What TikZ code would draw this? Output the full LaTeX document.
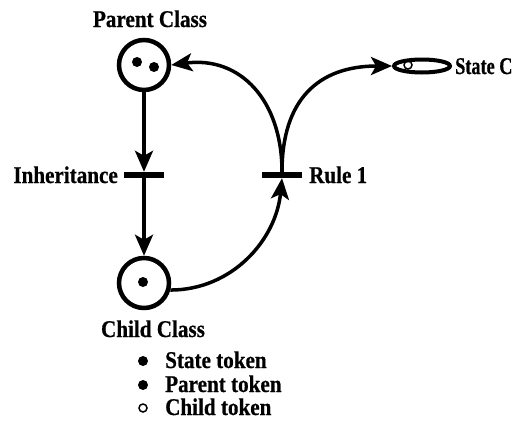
\documentclass[tikz,border=0pt]{standalone}
\usepackage{fontspec}
\newfontfamily\lblfont{Liberation Serif}[FakeStretch=0.88, BoldFeatures={FakeBold=0.6}]
\newfontfamily\narrowfont{Liberation Serif}[FakeStretch=0.76, BoldFeatures={FakeBold=0.6}]
\usetikzlibrary{shapes.geometric,arrows.meta}
\begin{document}
\begin{tikzpicture}[x=1pt,y=-1pt,
  lbl/.style={font=\lblfont\bfseries\fontsize{24pt}{24pt}\selectfont, inner sep=0pt},
  place/.style={circle, draw, line width=4.5pt, minimum size=50pt, inner sep=0pt},
  token/.style={circle, fill, minimum size=10pt, inner sep=0pt},
  hollow/.style={circle, draw, line width=1.5pt, minimum size=8pt, inner sep=0pt},
  trans/.style={rectangle, fill, minimum width=40pt, minimum height=6pt, inner sep=0pt},
  arr/.style={line width=3.5pt, -{Stealth[length=21pt,width=18pt,inset=5pt]}}]
\useasboundingbox (0,0) rectangle (512,426);

% places
\node[place] (parent) at (144,65) {};
\node[place] (child) at (144,283) {};
\node[ellipse, draw, line width=4pt, minimum width=56pt, minimum height=13pt, inner sep=0pt] (statec) at (422,66) {};

% tokens
\node[token] (pt1) at (137,62) {};
\node[token] (pt2) at (154,67) {};
\node[token] (ct1) at (143,282) {};
\node[hollow] (sc1) at (408,65) {};

% transitions
\node[trans] (inh) at (144,175) {};
\node[trans] (rule) at (282,175) {};

% arcs
\draw[arr] (parent) -- (inh);
\draw[arr] (inh) -- (child);
\draw[arr] (child.-15) .. controls (232,290) and (276,240) .. (rule.south);
\draw[arr] (rule.north) .. controls (282,100) and (240,56) .. (parent.east);
\draw[arr] (rule.north) .. controls (282,100) and (318,66) .. (statec.west);

% labels
\node[lbl, anchor=base] (lparent) at (150,27) {Parent Class};
\node[lbl, anchor=base east] (linh) at (118,183) {Inheritance};
\node[lbl, anchor=base west] (lrule) at (309,183) {Rule 1};
\node[lbl, font=\narrowfont\bfseries\fontsize{24pt}{24pt}\selectfont, anchor=base west] (lstate) at (455,74) {State C};
\node[lbl, anchor=base] (lchild) at (153,337) {Child Class};

% legend
\node[token] (k1) at (143,361) {};
\node[lbl, anchor=base west] (t1) at (165,368) {State token};
\node[token] (k2) at (143,385) {};
\node[lbl, anchor=base west] (t2) at (165,392) {Parent token};
\node[hollow] (k3) at (143,408) {};
\node[lbl, anchor=base west] (t3) at (165,415) {Child token};
\end{tikzpicture}
\end{document}
